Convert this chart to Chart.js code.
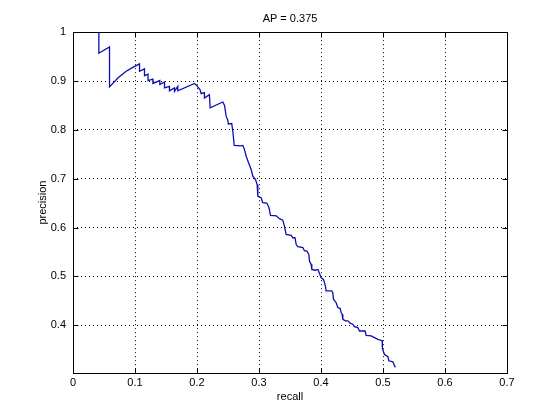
<!DOCTYPE html>
<html>
<head>
<meta charset="utf-8">
<script src="https://cdn.jsdelivr.net/npm/chart.js@4/dist/chart.umd.min.js"></script>
<style>
  html, body { margin: 0; padding: 0; background: #fff; }
  #wrap { width: 560px; height: 420px; }
</style>
</head>
<body>
<div id="wrap"><canvas id="prChart" width="560" height="420"></canvas></div>
<script>
// Chart text
const chartTitle = "AP = 0.375";
const xLabel = "recall";
const yLabel = "precision";

// Tick values
const xTicks = [0, 0.1, 0.2, 0.3, 0.4, 0.5, 0.6, 0.7];
const yTicks = [0.4, 0.5, 0.6, 0.7, 0.8, 0.9, 1];

// Precision / recall curve
const recall = [
  0.0417, 0.0417, 0.0589, 0.0589, 0.0723, 0.0858, 0.0965, 0.1073, 0.1073, 0.1153,
  0.1153, 0.121, 0.121, 0.1287, 0.129, 0.14, 0.14, 0.1476, 0.1476, 0.1556,
  0.1556, 0.1637, 0.1637, 0.169, 0.169, 0.196, 0.1987, 0.2013, 0.205, 0.2067,
  0.212, 0.212, 0.22, 0.2212, 0.2417, 0.2444, 0.247, 0.2497, 0.2505, 0.256,
  0.258, 0.26, 0.27, 0.274, 0.2765, 0.2793, 0.283, 0.2873, 0.29, 0.2944,
  0.297, 0.2981, 0.3035, 0.306, 0.3126, 0.316, 0.3185, 0.328, 0.333, 0.3384,
  0.341, 0.3438, 0.3519, 0.3546, 0.358, 0.36, 0.3626, 0.3707, 0.3734, 0.377,
  0.3804, 0.3815, 0.3841, 0.3852, 0.3906, 0.395, 0.3976, 0.4003, 0.404, 0.4056,
  0.4073, 0.4083, 0.4175, 0.419, 0.4201, 0.4245, 0.4271, 0.431, 0.4325, 0.434,
  0.4352, 0.4395, 0.4433, 0.447, 0.4513, 0.454, 0.4594, 0.462, 0.4712, 0.4728,
  0.481, 0.4863, 0.4917, 0.4954, 0.4987, 0.499, 0.5024, 0.508, 0.5094, 0.516,
  0.5185, 0.52
];
const precision = [
  1.0, 0.957, 0.97, 0.888, 0.906, 0.92, 0.928, 0.935, 0.92, 0.925,
  0.911, 0.914, 0.901, 0.904, 0.895, 0.901, 0.893, 0.898, 0.886, 0.889,
  0.88, 0.886, 0.879, 0.889, 0.88, 0.895, 0.892, 0.888, 0.882, 0.874,
  0.876, 0.865, 0.872, 0.845, 0.857, 0.85, 0.828, 0.82, 0.812, 0.813,
  0.795, 0.768, 0.767, 0.768, 0.76, 0.746, 0.733, 0.719, 0.705, 0.698,
  0.688, 0.664, 0.661, 0.651, 0.65, 0.641, 0.625, 0.624, 0.618, 0.615,
  0.603, 0.586, 0.584, 0.579, 0.579, 0.565, 0.561, 0.559, 0.552, 0.552,
  0.545, 0.531, 0.5245, 0.514, 0.5125, 0.514, 0.506, 0.497, 0.4935, 0.487,
  0.479, 0.47, 0.47, 0.4666, 0.453, 0.446, 0.436, 0.434, 0.4257, 0.4223,
  0.412, 0.4087, 0.4087, 0.404, 0.402, 0.397, 0.395, 0.388, 0.388, 0.379,
  0.378, 0.3745, 0.371, 0.3696, 0.368, 0.352, 0.34, 0.3355, 0.327, 0.325,
  0.317, 0.3135
];

const fontFamily = "'Liberation Sans', Arial, Helvetica, sans-serif";

function fmtTick(v) {
  return String(Math.round(v * 10) / 10);
}

// MATLAB-like box with inward tick marks on all four sides
const boxPlugin = {
  id: "boxPlugin",
  afterDraw(chart) {
    const { ctx, chartArea: a, scales } = chart;
    const x = scales.x;
    const y = scales.y;
    const L = Math.round(a.left) + 0.5;
    const R = Math.round(a.right) + 0.5;
    const T = Math.round(a.top) + 0.5;
    const B = Math.round(a.bottom) + 0.5;
    ctx.save();
    ctx.strokeStyle = "#000";
    ctx.lineWidth = 1;
    ctx.strokeRect(L, T, R - L, B - T);
    ctx.beginPath();
    xTicks.forEach((v) => {
      const px = Math.round(x.getPixelForValue(v)) + 0.5;
      ctx.moveTo(px, B);
      ctx.lineTo(px, B - 5);
      ctx.moveTo(px, T);
      ctx.lineTo(px, T + 5);
    });
    yTicks.forEach((v) => {
      const py = Math.round(y.getPixelForValue(v)) + 0.5;
      ctx.moveTo(L, py);
      ctx.lineTo(L + 5, py);
      ctx.moveTo(R, py);
      ctx.lineTo(R - 5, py);
    });
    ctx.stroke();
    ctx.restore();
  },
};

const ctx = document.getElementById("prChart").getContext("2d");
const chart = new Chart(ctx, {
  type: "line",
  data: {
    datasets: [
      {
        label: "PR",
        data: recall.map((r, i) => ({ x: r, y: precision[i] })),
        borderColor: "#0c0cb0",
        borderWidth: 1.3,
        pointRadius: 0,
        tension: 0,
        fill: false,
      },
    ],
  },
  options: {
    responsive: false,
    animation: false,
    layout: { padding: { left: 0, right: 53, top: 0, bottom: 0 } },
    plugins: {
      legend: { display: false },
      tooltip: { enabled: false },
      title: {
        display: true,
        text: chartTitle,
        fullSize: false,
        color: "#000",
        font: { family: fontFamily, size: 11, weight: "normal" },
        padding: { top: 12, bottom: 7 },
      },
    },
    scales: {
      x: {
        type: "linear",
        min: 0,
        max: 0.7,
        afterBuildTicks: (scale) => {
          scale.ticks = xTicks.map((v) => ({ value: v }));
        },
        afterFit: (scale) => {
          scale.height = 47;
        },
        ticks: {
          color: "#000",
          padding: 3,
          maxRotation: 0,
          font: { family: fontFamily, size: 11 },
          callback: (v) => fmtTick(v),
        },
        grid: { color: "#000", lineWidth: 1, drawTicks: false },
        border: { display: false, dash: [1, 3] },
        title: {
          display: true,
          text: xLabel,
          color: "#000",
          font: { family: fontFamily, size: 11 },
          padding: { top: 0, bottom: 16 },
        },
      },
      y: {
        type: "linear",
        min: 0.302,
        max: 1,
        afterBuildTicks: (scale) => {
          scale.ticks = yTicks.map((v) => ({ value: v }));
        },
        afterFit: (scale) => {
          scale.width = 73;
        },
        ticks: {
          color: "#000",
          padding: 7,
          font: { family: fontFamily, size: 11 },
          callback: (v) => fmtTick(v),
        },
        grid: { color: "#000", lineWidth: 1, drawTicks: false },
        border: { display: false, dash: [1, 3] },
        title: {
          display: true,
          text: yLabel,
          color: "#000",
          font: { family: fontFamily, size: 11 },
          padding: { top: 36, bottom: 0 },
        },
      },
    },
  },
  plugins: [boxPlugin],
});
</script>
</body>
</html>
